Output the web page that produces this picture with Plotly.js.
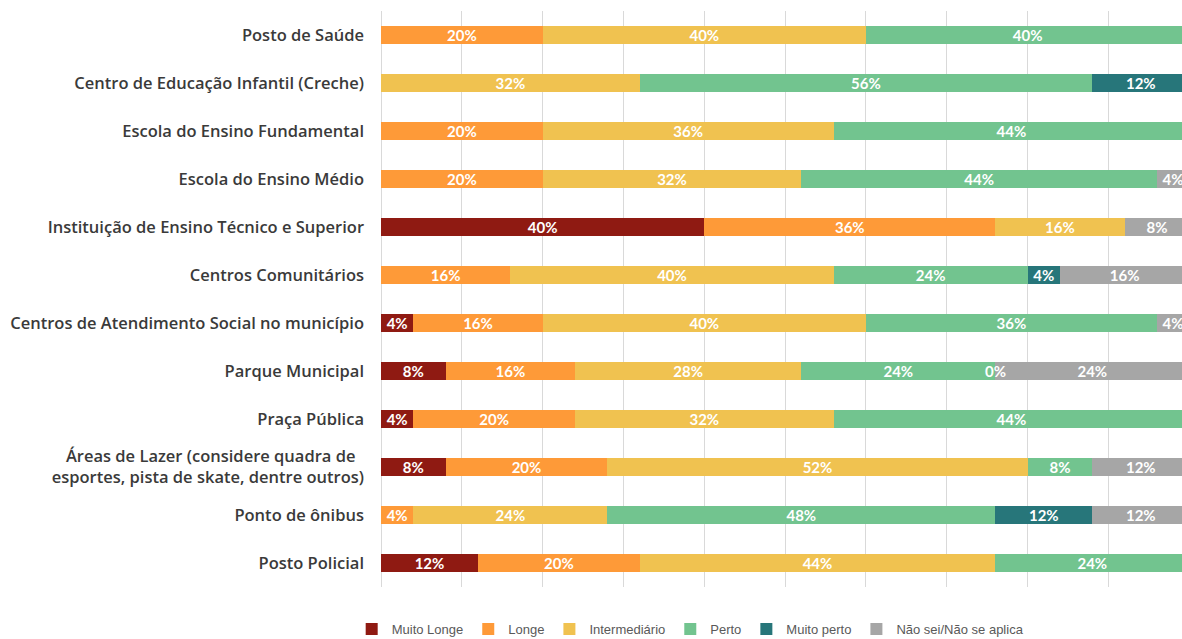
<!DOCTYPE html>
<html>
<head>
<meta charset="utf-8">
<script src="https://cdn.plot.ly/plotly-3.0.1.min.js"></script>
<style>html,body{margin:0;padding:0;background:#fff;}#chart{width:1182px;height:639px;}</style>
</head>
<body>
<div id="chart"></div>
<script>
const categories = [
  "Posto de Saúde",
  "Centro de Educação Infantil (Creche)",
  "Escola do Ensino Fundamental",
  "Escola do Ensino Médio",
  "Instituição de Ensino Técnico e Superior",
  "Centros Comunitários",
  "Centros de Atendimento Social no município",
  "Parque Municipal",
  "Praça Pública",
  "Áreas de Lazer (considere quadra de\u00a0\u00a0<br>esportes, pista de skate, dentre outros)",
  "Ponto de ônibus",
  "Posto Policial"
];
const seriesNames = ["Muito Longe", "Longe", "Intermediário", "Perto", "Muito perto", "Não sei/Não se aplica"];
const muitoLonge    = [null, null, null, null, 40, null, 4, 8, 4, 8, null, 12];
const longe         = [20, null, 20, 20, 36, 16, 16, 16, 20, 20, 4, 20];
const intermediario = [40, 32, 36, 32, 16, 40, 40, 28, 32, 52, 24, 44];
const perto         = [40, 56, 44, 44, null, 24, 36, 24, 44, 8, 48, 24];
const muitoPerto    = [null, 12, null, null, null, 4, null, 0, null, null, 12, null];
const naoSei        = [null, null, null, 4, 8, 16, 4, 24, null, 12, 12, null];
const colors = ["#8f1a12", "#fe9a38", "#f0c250", "#72c48f", "#27767a", "#a6a6a6"];

const allSeries = [muitoLonge, longe, intermediario, perto, muitoPerto, naoSei];
const textFont = {family: "Lato, 'Open Sans', sans-serif", size: 15, color: "#ffffff", weight: 700};

const traces = allSeries.map((vals, i) => ({
  type: "bar",
  orientation: "h",
  name: seriesNames[i],
  y: categories,
  x: vals,
  marker: {color: colors[i], line: {width: 0}},
  text: vals.map(v => (v === null ? "" : v + "%")),
  textposition: "inside",
  insidetextanchor: "middle",
  textangle: 0,
  constraintext: "none",
  textfont: textFont,
  hoverinfo: "name+x+y"
}));

// labels for zero-valued segments (a zero-width bar draws no inside text)
const annotations = [];
categories.forEach((cat, r) => {
  let cum = 0;
  allSeries.forEach((vals) => {
    const v = vals[r];
    if (v === 0) {
      annotations.push({x: cum, y: cat, xref: "x", yref: "y", text: v + "%", showarrow: false, font: textFont});
    }
    if (v !== null) cum += v;
  });
});

const layout = {
  width: 1182,
  height: 639,
  barmode: "stack",
  bargap: 0.61,
  margin: {l: 381, r: 0, t: 11, b: 52, autoexpand: false},
  paper_bgcolor: "#ffffff",
  plot_bgcolor: "#ffffff",
  xaxis: {
    range: [0, 99.1],
    dtick: 10,
    showticklabels: false,
    showgrid: true,
    gridcolor: "#d9d9d9",
    gridwidth: 1,
    zeroline: true,
    zerolinecolor: "#d9d9d9",
    zerolinewidth: 1,
    fixedrange: true
  },
  yaxis: {
    type: "category",
    autorange: "reversed",
    showgrid: false,
    zeroline: false,
    ticks: "",
    ticklabelstandoff: 16,
    tickfont: {family: "'Open Sans', Lato, sans-serif", size: 16.5, color: "#3a3a3a", weight: 600},
    fixedrange: true
  },
  showlegend: true,
  legend: {
    orientation: "h",
    x: 0.386,
    xanchor: "center",
    y: -0.047,
    yanchor: "top",
    font: {family: "'Liberation Sans Narrow', 'Liberation Sans', Arial, sans-serif", size: 13, color: "#595959"},
    itemwidth: 30,
    tracegroupgap: 0,
    traceorder: "normal"
  },
  annotations: annotations
};

Plotly.newPlot("chart", traces, layout, {displayModeBar: false, staticPlot: true});
</script>
</body>
</html>
